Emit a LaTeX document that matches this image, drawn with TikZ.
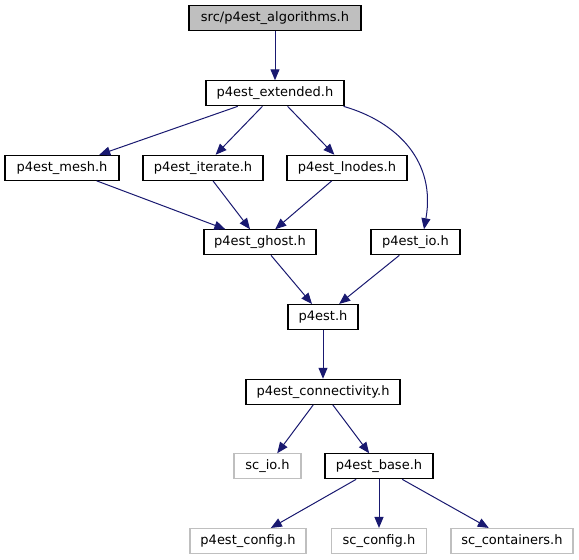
\documentclass[tikz,border=0pt]{standalone}
\usepackage{fontspec}
\setmainfont{DejaVu Sans}
\usetikzlibrary{arrows.meta,calc}
\definecolor{edgeblue}{HTML}{191970}
\definecolor{lgray}{HTML}{BFBFBF}
\begin{document}
\begin{tikzpicture}[x=1pt,y=-1pt,
  box/.style={draw=black,line width=1.1pt,fill=white,minimum height=25pt,inner sep=0pt,font=\fontsize{13}{15}\selectfont},
  rootbox/.style={box,fill=lgray},
  extbox/.style={box,draw=lgray},
  dep/.style={draw=edgeblue,line width=1pt,-{Triangle[length=11pt,width=9pt]}}]
\useasboundingbox (0,0) rectangle (579,560);
\node[rootbox,minimum width=172pt] (alg) at (275,18.3) {src/p4est\_algorithms.h};
\node[box,minimum width=138pt] (ext) at (275,93.3) {p4est\_extended.h};
\node[box,minimum width=114pt] (mesh) at (62,167.8) {p4est\_mesh.h};
\node[box,minimum width=120pt] (iter) at (203,167.8) {p4est\_iterate.h};
\node[box,minimum width=120pt] (lnod) at (347,167.8) {p4est\_lnodes.h};
\node[box,minimum width=112pt] (ghost) at (260,242.3) {p4est\_ghost.h};
\node[box,minimum width=89pt] (io) at (415.5,242.3) {p4est\_io.h};
\node[box,minimum width=70pt] (p4est) at (323,317) {p4est.h};
\node[box,minimum width=154pt] (conn) at (323,391.8) {p4est\_connectivity.h};
\node[extbox,minimum width=67pt] (scio) at (267.5,466.3) {sc\_io.h};
\node[box,minimum width=108pt] (base) at (379,466.3) {p4est\_base.h};
\node[extbox,minimum width=116pt] (pconf) at (248,541) {p4est\_config.h};
\node[extbox,minimum width=95pt] (scconf) at (379,541) {sc\_config.h};
\node[extbox,minimum width=122pt] (scont) at (512,541) {sc\_containers.h};
\coordinate (extio) at ($(ext.south east)+(-1,0)$);
\coordinate (ioin) at ($(io.north)+(8.5,0)$);
\path[dep] (alg) -- (ext);
\path[dep] (ext) -- (mesh);
\path[dep] (ext) -- (iter);
\path[dep] (ext) -- (lnod);
\path[dep] (extio) .. controls (398,122) and (436,162) .. (ioin);
\path[dep] (mesh) -- (ghost);
\path[dep] (iter) -- (ghost);
\path[dep] (lnod) -- (ghost);
\path[dep] (ghost) -- (p4est);
\path[dep] (io) -- (p4est);
\path[dep] (p4est) -- (conn);
\path[dep] (conn) -- (scio);
\path[dep] (conn) -- (base);
\path[dep] (base) -- (pconf);
\path[dep] (base) -- (scconf);
\path[dep] (base) -- (scont);
\end{tikzpicture}
\end{document}
